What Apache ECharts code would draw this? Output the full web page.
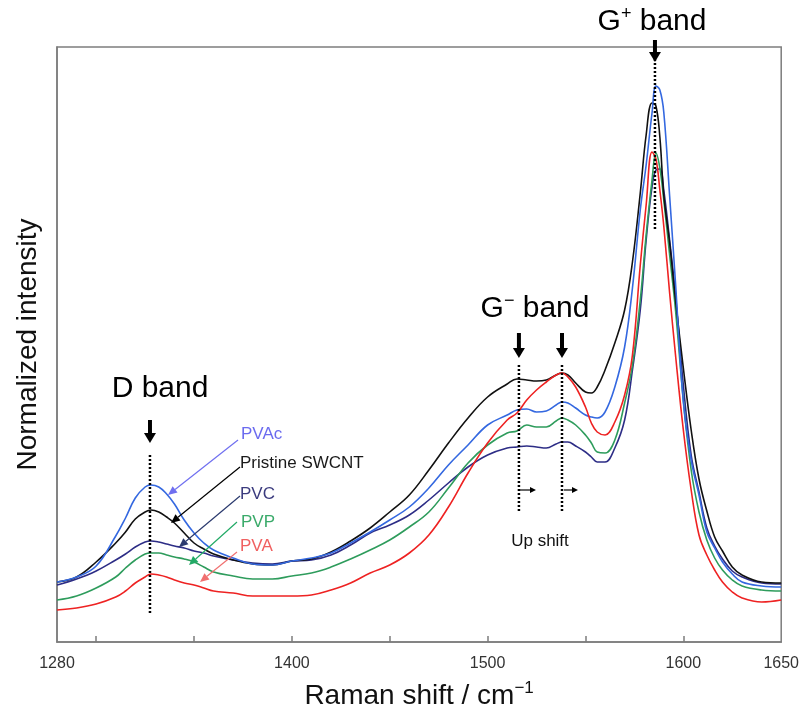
<!DOCTYPE html>
<html>
<head>
<meta charset="utf-8">
<script src="https://cdn.jsdelivr.net/npm/echarts@6/dist/echarts.min.js"></script>
<style>
  html, body { margin: 0; padding: 0; background: #fff; }
  #main { width: 802px; height: 716px; }
</style>
</head>
<body>
<div id="main"></div>
<script>
// Raman shift sample points (cm-1)
const shift = [1280, 1290, 1300, 1310, 1315, 1320, 1325, 1328, 1332, 1336, 1340, 1345, 1350, 1355, 1360, 1370,
  1380, 1390, 1400, 1410, 1420, 1430, 1440, 1450, 1460, 1470, 1480, 1490, 1500, 1510, 1515, 1520, 1525, 1530,
  1535, 1538, 1541, 1545, 1550, 1553, 1556, 1560, 1565, 1570, 1574, 1578, 1581, 1584, 1586, 1588, 1590, 1593,
  1596, 1600, 1604, 1608, 1612, 1616, 1620, 1625, 1630, 1640, 1650]

// normalized intensity (arb. units)
const pristine = [12.0, 13.0, 16.0, 19.8, 22.0, 24.6, 26.0, 26.4, 26.0, 25.0, 23.8, 21.8, 19.8, 18.6, 17.6, 16.4,
  15.6, 15.4, 16.2, 16.6, 18.0, 20.2, 22.8, 26.0, 29.4, 34.4, 39.8, 44.8, 49.0, 51.6, 52.6, 52.4, 52.2, 52.4,
  53.4, 53.8, 53.4, 51.8, 50.0, 49.8, 51.0, 54.4, 59.8, 66.4, 76.0, 89.8, 101.4, 107.8, 107.2, 101.0, 89.4, 79.8,
  68.4, 54.8, 42.4, 32.6, 26.2, 21.0, 18.2, 15.0, 13.4, 12.0, 11.8]
const pvac = [12.0, 13.0, 15.2, 21.2, 24.8, 28.8, 31.0, 31.4, 31.0, 29.6, 27.6, 24.4, 21.8, 19.8, 18.4, 16.8,
  15.6, 15.4, 16.2, 16.8, 17.8, 19.8, 22.0, 24.4, 27.0, 30.8, 35.4, 39.4, 43.4, 45.4, 46.4, 46.6, 46.0, 46.2,
  47.4, 48.0, 47.8, 46.8, 45.4, 45.0, 44.8, 46.0, 51.0, 59.0, 70.8, 86.4, 95.4, 105.8, 111.2, 110.4, 106.0, 89.2,
  71.8, 48.0, 36.4, 29.4, 22.0, 18.8, 16.0, 13.6, 12.0, 11.2, 11.0]
const pvc = [11.4, 12.6, 14.2, 16.4, 17.6, 19.0, 20.0, 20.2, 20.0, 19.6, 19.2, 18.8, 18.2, 17.8, 17.2, 16.4,
  15.8, 15.6, 16.2, 16.4, 17.4, 19.4, 21.8, 23.4, 25.4, 28.4, 31.8, 35.0, 37.4, 38.8, 39.0, 39.2, 39.0, 38.8,
  39.6, 40.0, 40.0, 39.2, 38.0, 37.0, 36.0, 36.0, 38.8, 44.4, 54.4, 66.4, 80.4, 91.0, 94.4, 94.6, 90.4, 80.4,
  69.4, 51.4, 37.4, 30.0, 22.8, 19.2, 16.6, 14.2, 13.0, 11.8, 11.6]
const pvp = [8.4, 9.2, 10.8, 13.0, 14.8, 16.4, 17.6, 17.8, 17.8, 17.4, 17.0, 16.6, 16.0, 15.0, 14.0, 13.2,
  12.6, 12.6, 13.2, 13.8, 15.0, 16.6, 18.4, 20.4, 23.0, 26.0, 30.8, 35.8, 39.4, 41.8, 42.2, 43.4, 43.0, 43.0,
  44.2, 44.8, 44.4, 43.4, 41.4, 39.8, 38.0, 37.8, 40.4, 47.8, 55.4, 68.4, 81.4, 92.4, 97.8, 94.8, 88.4, 77.4,
  66.4, 48.4, 34.4, 26.0, 20.4, 16.8, 14.4, 12.4, 11.2, 10.4, 10.2]
const pva = [6.4, 6.8, 7.6, 9.0, 10.2, 11.8, 13.0, 13.6, 13.4, 13.0, 12.4, 11.8, 11.4, 10.8, 10.2, 9.8,
  9.2, 9.2, 9.2, 9.4, 10.4, 11.8, 13.8, 15.4, 17.8, 21.4, 27.0, 33.8, 39.8, 44.4, 45.8, 48.4, 50.4, 52.0,
  53.4, 53.8, 53.0, 51.0, 47.0, 43.8, 42.0, 41.4, 44.0, 49.4, 57.4, 75.4, 87.4, 98.0, 96.6, 90.4, 83.2, 69.8,
  57.4, 42.4, 30.4, 21.4, 17.4, 14.4, 12.0, 10.0, 8.8, 8.0, 8.4]

const tickValues = [1300, 1350, 1400, 1450, 1500, 1550, 1600]
const labelValues = [1280, 1400, 1500, 1600, 1650]

const font = 'Arial, "Liberation Sans", sans-serif'
const axisGray = '#7d7d7d'

function pairs (arr) {
  return shift.map(function (x, i) { return [x, arr[i]] })
}

function spectrum (name, arr, color) {
  return {
    name: name,
    type: 'line',
    data: pairs(arr),
    showSymbol: false,
    smooth: 0.4,
    lineStyle: { width: 1.6, color: color },
    itemStyle: { color: color }
  }
}

var chart = echarts.init(document.getElementById('main'))

var option = {
  animation: false,
  grid: {
    show: true,
    left: 57,
    right: 20,
    top: 47,
    bottom: 74,
    borderColor: axisGray,
    borderWidth: 1.5
  },
  xAxis: {
    type: 'value',
    min: 1280,
    max: 1650,
    name: '{n|Raman shift / cm}{s|−1}',
    nameLocation: 'middle',
    nameGap: 38,
    nameTextStyle: {
      rich: {
        n: { fontSize: 28, color: '#111', fontFamily: font, lineHeight: 32 },
        s: { fontSize: 17, color: '#111', fontFamily: font, verticalAlign: 'top', lineHeight: 20 }
      }
    },
    axisLine: { lineStyle: { color: axisGray, width: 1.5 } },
    axisTick: { show: true, inside: true, length: 6, customValues: tickValues, lineStyle: { color: axisGray, width: 1.5 } },
    axisLabel: {
      customValues: labelValues, fontSize: 16, color: '#333', margin: 14, fontFamily: font,
      formatter: function (v) { return String(v) }
    },
    splitLine: { show: false }
  },
  yAxis: {
    type: 'value',
    min: 0,
    max: 119,
    name: 'Normalized intensity',
    nameLocation: 'middle',
    nameGap: 15,
    nameTextStyle: { fontSize: 28, color: '#111', fontFamily: font },
    axisLine: { show: true, lineStyle: { color: axisGray, width: 1.5 } },
    axisTick: { show: false },
    axisLabel: { show: false },
    splitLine: { show: false }
  },
  series: [
    spectrum('PVC', pvc, '#2d2d86'),
    spectrum('PVP', pvp, '#2e9c5c'),
    spectrum('Pristine SWCNT', pristine, '#111111'),
    spectrum('PVAc', pvac, '#3468e0'),
    spectrum('PVA', pva, '#ee2222')
  ]
}
chart.setOption(option)

function P (x, y) {
  return chart.convertToPixel({ gridIndex: 0 }, [x, y])
}

// dotted marker line at a band position
function dotted (wn, v1, v2) {
  var a = P(wn, v1), b = P(wn, v2)
  return { type: 'line', z: 20, shape: { x1: a[0], y1: a[1], x2: b[0], y2: b[1] },
    style: { stroke: '#000', lineWidth: 2.5, lineDash: [2, 2] } }
}

// thick black down arrow
function downArrow (wn, v1, v2) {
  var a = P(wn, v1), b = P(wn, v2)
  var x = a[0], hh = 10
  return [
    { type: 'line', z: 20, shape: { x1: x, y1: a[1], x2: x, y2: b[1] - hh + 1 }, style: { stroke: '#000', lineWidth: 4 } },
    { type: 'polygon', z: 20, shape: { points: [[x - 6, b[1] - hh], [x + 6, b[1] - hh], [x, b[1]]] }, style: { fill: '#000' } }
  ]
}

// thin arrow with filled head, pixel points
function arrow (p1, p2, color, lw, hl, hw) {
  var dx = p2[0] - p1[0], dy = p2[1] - p1[1]
  var L = Math.sqrt(dx * dx + dy * dy)
  var ux = dx / L, uy = dy / L
  var bx = p2[0] - ux * hl, by = p2[1] - uy * hl
  return [
    { type: 'line', z: 20, shape: { x1: p1[0], y1: p1[1], x2: bx, y2: by }, style: { stroke: color, lineWidth: lw } },
    { type: 'polygon', z: 20, shape: { points: [[p2[0], p2[1]], [bx - uy * hw, by + ux * hw], [bx + uy * hw, by - ux * hw]] }, style: { fill: color } }
  ]
}

function label (text, x, y, color, size, align) {
  return { type: 'text', z: 20, x: x, y: y,
    style: { text: text, fill: color, fontSize: size, fontFamily: font, align: align || 'left', verticalAlign: 'middle' } }
}

function bandLabel (main, sup, rest, x, y) {
  return { type: 'text', z: 20, x: x, y: y,
    style: {
      text: '{g|' + main + '}{s|' + sup + '}{g|' + rest + '}',
      align: 'center', verticalAlign: 'middle',
      rich: {
        g: { fontSize: 30, fontFamily: font, fill: '#000', lineHeight: 34 },
        s: { fontSize: 18, fontFamily: font, fill: '#000', verticalAlign: 'top', lineHeight: 22 }
      }
    } }
}

var g = []
g.push(dotted(1327.5, 37.4, 5.4))
g.push(dotted(1516, 55.4, 25.8))
g.push(dotted(1538, 55.4, 25.8))
g.push(dotted(1585.5, 117.4, 82.4))
g = g.concat(downArrow(1327.5, 44.4, 39.8))
g = g.concat(downArrow(1516, 61.8, 56.8))
g = g.concat(downArrow(1538, 61.8, 56.8))
g = g.concat(downArrow(1585.5, 120.4, 116))

g.push(label('D band', 160, 389, '#000', 30, 'center'))
g.push(bandLabel('G', '−', ' band', 535, 309))
g.push(bandLabel('G', '+', ' band', 652, 22))
g.push(label('Up shift', 540, 541, '#111', 17, 'center'))
g = g.concat(arrow([520, 490], [536, 490], '#000', 1.2, 6, 3))
g = g.concat(arrow([564, 490], [578, 490], '#000', 1.2, 6, 3))

// sample labels with pointers
g.push(label('PVAc', 241, 434, '#6b6bef', 17))
g.push(label('Pristine SWCNT', 240, 463, '#1a1a1a', 17))
g.push(label('PVC', 240, 494, '#3b3b7e', 17))
g.push(label('PVP', 241, 522, '#3aaa6a', 17))
g.push(label('PVA', 240, 546, '#f06060', 17))
g = g.concat(arrow([238, 440], [168, 495], '#6f6ff0', 1.2, 9, 4))
g = g.concat(arrow([240, 467], [171, 523], '#000', 1.2, 9, 4))
g = g.concat(arrow([240, 496], [179, 547], '#2b3a6e', 1.2, 9, 4))
g = g.concat(arrow([237, 522], [189, 565], '#22aa66', 1.2, 9, 4))
g = g.concat(arrow([237, 552], [200, 582], '#f07070', 1.2, 9, 4))

chart.setOption({ graphic: g })
</script>
</body>
</html>
